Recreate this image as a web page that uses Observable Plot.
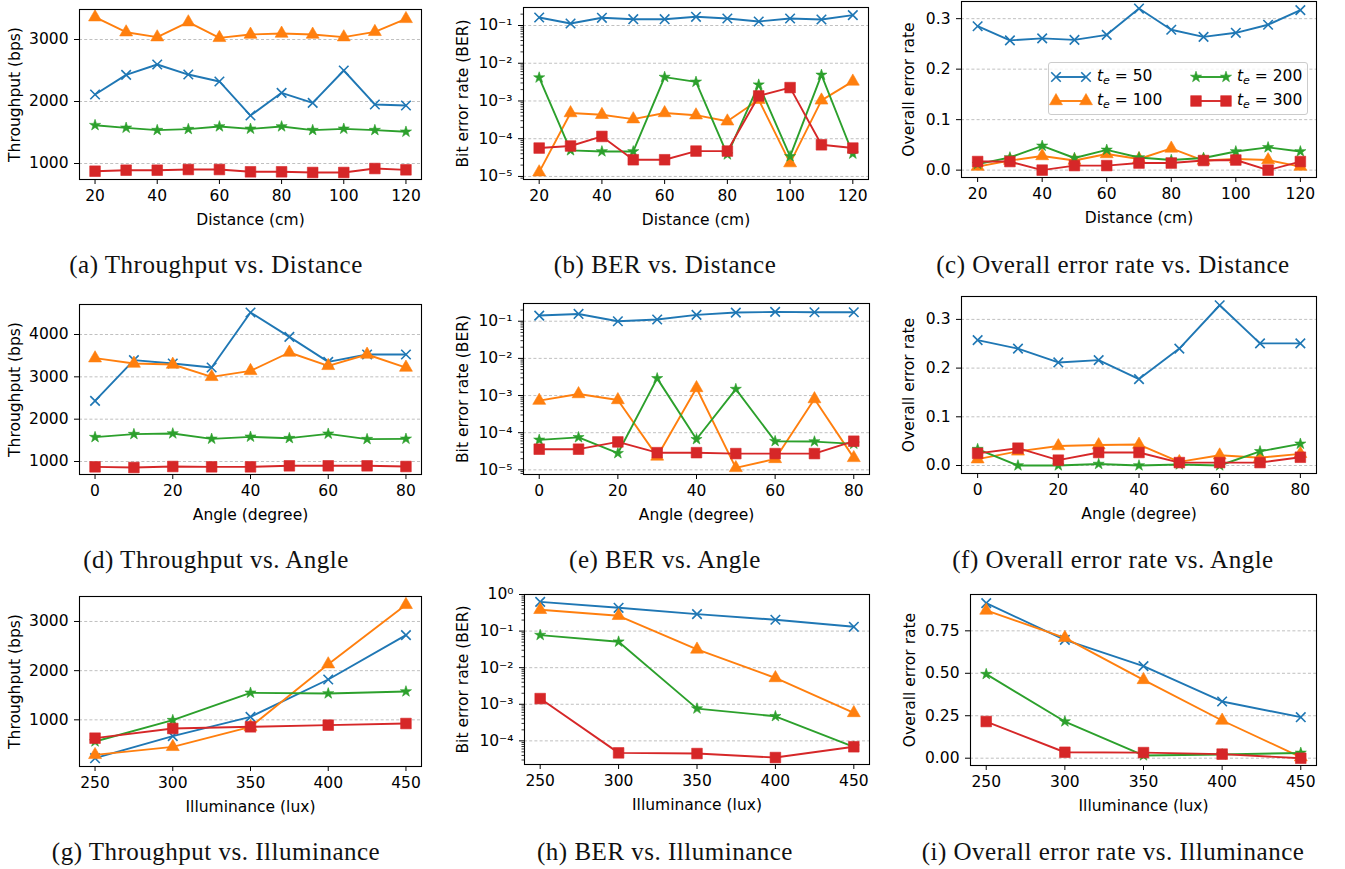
<!DOCTYPE html>
<html><head><meta charset="utf-8">
<script src="https://cdn.jsdelivr.net/npm/d3@7"></script>
<script src="https://cdn.jsdelivr.net/npm/@observablehq/plot@0.6"></script>
<style>
body{margin:0;background:#fff;}
#root{position:relative;width:1345px;height:869px;overflow:hidden;font-family:"DejaVu Sans";}
.panel{position:absolute;}
.cap{position:absolute;font-family:"Liberation Serif",serif;font-size:25px;letter-spacing:0.5px;white-space:nowrap;transform:translateX(-50%);line-height:1;color:#111;}
.legend{position:absolute;border:1px solid #cccccc;border-radius:3px;background:rgba(255,255,255,0.8);font-family:"DejaVu Sans";font-size:15.5px;color:#000;}
.legend .item{position:absolute;display:flex;align-items:center;white-space:nowrap;}
</style></head><body><div id="root"></div>
<script>
// ---------- data ----------
const distance = [20, 30, 40, 50, 60, 70, 80, 90, 100, 110, 120];
const angle = [0, 10, 20, 30, 40, 50, 60, 70, 80];
const illuminance = [250, 300, 350, 400, 450];
const seriesNames = ["50", "100", "200", "300"];

const thrDist50 = [2113, 2430, 2597, 2435, 2323, 1774, 2140, 1978, 2500, 1952, 1935];
const thrDist100 = [3360, 3118, 3038, 3280, 3027, 3081, 3097, 3081, 3038, 3124, 3333];
const thrDist200 = [1618, 1575, 1538, 1554, 1597, 1559, 1597, 1538, 1559, 1538, 1511];
const thrDist300 = [876, 892, 892, 903, 903, 866, 866, 855, 855, 919, 898];

const berDist50 = [0.163, 0.113, 0.16, 0.147, 0.147, 0.17, 0.153, 0.128, 0.153, 0.144, 0.188];
const berDist100 = [1.3e-5, 4.8e-4, 4.3e-4, 3.3e-4, 4.8e-4, 4.2e-4, 2.9e-4, 1.08e-3, 2.26e-5, 1.04e-3, 3.3e-3];
const berDist200 = [4.16e-3, 4.9e-5, 4.6e-5, 4.6e-5, 4.3e-3, 3.2e-3, 3.8e-5, 2.7e-3, 3.4e-5, 4.9e-3, 4.0e-5];
const berDist300 = [5.65e-5, 6.4e-5, 1.15e-4, 2.77e-5, 2.77e-5, 4.7e-5, 4.7e-5, 1.36e-3, 2.26e-3, 6.9e-5, 5.65e-5];

const errDist50 = [0.285, 0.257, 0.261, 0.258, 0.268, 0.320, 0.278, 0.264, 0.272, 0.288, 0.317];
const errDist100 = [0.007, 0.019, 0.028, 0.019, 0.032, 0.022, 0.043, 0.019, 0.022, 0.020, 0.007];
const errDist200 = [0.012, 0.025, 0.048, 0.024, 0.040, 0.025, 0.020, 0.024, 0.037, 0.045, 0.037];
const errDist300 = [0.017, 0.017, 0.0, 0.009, 0.009, 0.014, 0.014, 0.019, 0.020, 0.0, 0.017];

const thrAng50 = [2433, 3394, 3315, 3220, 4520, 3945, 3354, 3528, 3528];
const thrAng100 = [3441, 3315, 3291, 3000, 3142, 3575, 3260, 3528, 3220];
const thrAng200 = [1575, 1646, 1661, 1535, 1583, 1551, 1654, 1528, 1535];
const thrAng300 = [874, 858, 882, 874, 874, 898, 898, 898, 882];

const berAng50 = [0.142, 0.157, 0.1, 0.111, 0.148, 0.171, 0.178, 0.174, 0.174];
const berAng100 = [7.3e-4, 1.1e-3, 7.6e-4, 2.3e-5, 1.6e-3, 1.13e-5, 1.97e-5, 8.05e-4, 2.1e-5];
const berAng200 = [6.4e-5, 7.5e-5, 2.8e-5, 2.9e-3, 6.65e-5, 1.49e-3, 5.9e-5, 5.77e-5, 5.0e-5];
const berAng300 = [3.6e-5, 3.6e-5, 5.65e-5, 2.9e-5, 2.9e-5, 2.74e-5, 2.74e-5, 2.74e-5, 5.9e-5];

const errAng50 = [0.2575, 0.240, 0.2116, 0.2164, 0.1774, 0.240, 0.329, 0.2507, 0.2507];
const errAng100 = [0.013, 0.029, 0.040, 0.042, 0.043, 0.0075, 0.021, 0.016, 0.024];
const errAng200 = [0.0336, 0.0, 0.0, 0.003, 0.0, 0.002, 0.0, 0.029, 0.0445];
const errAng300 = [0.025, 0.0356, 0.011, 0.0267, 0.0267, 0.006, 0.006, 0.006, 0.017];

const thrIll50 = [220, 668, 1061, 1820, 2722];
const thrIll100 = [288, 451, 858, 2132, 3339];
const thrIll200 = [559, 993, 1549, 1536, 1576];
const thrIll300 = [627, 824, 858, 892, 925];

const berIll50 = [0.63, 0.433, 0.291, 0.204, 0.131];
const berIll100 = [0.382, 0.262, 0.0316, 0.00523, 5.8e-4];
const berIll200 = [0.0778, 0.0512, 7.6e-4, 4.7e-4, 6.9e-5];
const berIll300 = [1.43e-3, 4.7e-5, 4.5e-5, 3.5e-5, 6.9e-5];

const errIll50 = [0.913, 0.697, 0.542, 0.334, 0.2415];
const errIll100 = [0.870, 0.709, 0.461, 0.222, 0.006];
const errIll200 = [0.495, 0.216, 0.016, 0.022, 0.031];
const errIll300 = [0.216, 0.035, 0.033, 0.024, 0.0];

const distTicks = [20, 40, 60, 80, 100, 120];
const angTicks = [0, 20, 40, 60, 80];
const illTicks = [250, 300, 350, 400, 450];
const thrTicksA = [1000, 2000, 3000];
const thrTicksD = [1000, 2000, 3000, 4000];
const berTicks = [1e-5, 1e-4, 1e-3, 1e-2, 1e-1];
const berTicksH = [1e-4, 1e-3, 1e-2, 1e-1, 1];
const errTicks = [0, 0.1, 0.2, 0.3];
const errTicksI = [0, 0.25, 0.5, 0.75];

const xLabels = ["Distance (cm)", "Angle (degree)", "Illuminance (lux)"];
const yLabels = ["Throughput (bps)", "Bit error rate (BER)", "Overall error rate"];
const captions = [
  "(a) Throughput vs. Distance", "(b) BER vs. Distance", "(c) Overall error rate vs. Distance",
  "(d) Throughput vs. Angle", "(e) BER vs. Angle", "(f) Overall error rate vs. Angle",
  "(g) Throughput vs. Illuminance", "(h) BER vs. Illuminance", "(i) Overall error rate vs. Illuminance"
];

// ---------- styling ----------
const colors = ["#1f77b4", "#ff7f0e", "#2ca02c", "#d62728"];
const symbols = ["times", "triangle", "star", "square"];
const radii = [4.4, 4.8, 3.5, 6.0];
const FS = 15.5;

const supMap = {"-": "\u207B", "0": "\u2070", "1": "\u00B9", "2": "\u00B2", "3": "\u00B3", "4": "\u2074", "5": "\u2075", "6": "\u2076", "7": "\u2077", "8": "\u2078", "9": "\u2079"};
const logFmt = d => "10" + String(Math.round(Math.log10(d))).split("").map(c => supMap[c]).join("");

const root = document.getElementById("root");

function panel(o) {
  const ML = 80, MR = 12, MT = 12, MB = 52;
  const [L, T, R, B] = o.frame;
  const w = R - L, h = B - T;
  const marks = [];
  marks.push(Plot.gridY(o.yTicks, {stroke: "#b0b0b0", strokeOpacity: 1, strokeDasharray: "3,2.2", strokeWidth: 0.8}));
  o.ys.forEach((ys, i) => {
    const data = o.xs.map((xv, j) => ({x: xv, y: ys[j]}));
    marks.push(Plot.line(data, {x: "x", y: "y", stroke: colors[i], strokeWidth: 1.9}));
    marks.push(Plot.dot(data, {x: "x", y: "y", symbol: symbols[i], r: radii[i],
      fill: i === 0 ? "none" : colors[i], stroke: colors[i], strokeWidth: i === 0 ? 1.6 : 0.6}));
  });
  marks.push(Plot.frame({stroke: "#000", strokeWidth: 1.1}));
  if (o.yType === "log") {
    const minor = [];
    for (let k = -7; k <= 0; k++) for (let m = 2; m <= 9; m++) {
      const v = m * Math.pow(10, k);
      if (v > o.yDomain[0] && v < o.yDomain[1]) minor.push(v);
    }
    marks.push(Plot.axisY({ticks: minor, tickSize: 2.5, tickFormat: () => "", label: null, strokeWidth: 0.8}));
  }
  marks.push(Plot.axisY({ticks: o.yTicks, tickFormat: o.yFormat, tickSize: 5, tickPadding: 6, strokeWidth: 1, fontSize: FS,
    label: o.yLabel, labelAnchor: "center", labelArrow: "none", labelOffset: o.yLabelOffset}));
  marks.push(Plot.axisX({ticks: o.xTicks, tickSize: 5, tickPadding: 5.5, strokeWidth: 1, fontSize: FS,
    label: o.xLabel, labelAnchor: "center", labelArrow: "none", labelOffset: 45}));
  const svg = Plot.plot({
    width: w + ML + MR, height: h + MT + MB,
    marginLeft: ML, marginRight: MR, marginTop: MT, marginBottom: MB,
    x: {domain: o.xDomain},
    y: {type: o.yType || "linear", domain: o.yDomain},
    style: {fontFamily: "DejaVu Sans", fontSize: FS + "px", color: "#000", background: "transparent", overflow: "visible"},
    marks
  });
  const div = document.createElement("div");
  div.className = "panel";
  div.style.left = (L - ML) + "px";
  div.style.top = (T - MT) + "px";
  div.appendChild(svg);
  root.appendChild(div);
}

const fmt1 = d3.format(".1f"), fmt2 = d3.format(".2f"), fmt0 = d3.format("d");

// row 1
panel({frame: [79, 9, 421, 179], xs: distance, xDomain: [15, 125], xTicks: distTicks, xLabel: xLabels[0],
  ys: [thrDist50, thrDist100, thrDist200, thrDist300], yDomain: [742, 3484], yTicks: thrTicksA, yFormat: fmt0,
  yLabel: yLabels[0], yLabelOffset: 71});
panel({frame: [523, 7, 868, 179], xs: distance, xDomain: [15, 125], xTicks: distTicks, xLabel: xLabels[0],
  ys: [berDist50, berDist100, berDist200, berDist300], yType: "log", yDomain: [8.3e-6, 0.30], yTicks: berTicks, yFormat: logFmt,
  yLabel: yLabels[1], yLabelOffset: 67});
panel({frame: [961, 1, 1316, 177], xs: distance, xDomain: [15, 125], xTicks: distTicks, xLabel: xLabels[0],
  ys: [errDist50, errDist100, errDist200, errDist300], yDomain: [-0.0146, 0.334], yTicks: errTicks, yFormat: fmt1,
  yLabel: yLabels[2], yLabelOffset: 59});
// row 2
panel({frame: [79, 304, 421, 474], xs: angle, xDomain: [-4, 84], xTicks: angTicks, xLabel: xLabels[1],
  ys: [thrAng50, thrAng100, thrAng200, thrAng300], yDomain: [693, 4709], yTicks: thrTicksD, yFormat: fmt0,
  yLabel: yLabels[0], yLabelOffset: 71});
panel({frame: [523, 303, 869, 474], xs: angle, xDomain: [-4, 84], xTicks: angTicks, xLabel: xLabels[1],
  ys: [berAng50, berAng100, berAng200, berAng300], yType: "log", yDomain: [7.5e-6, 0.30], yTicks: berTicks, yFormat: logFmt,
  yLabel: yLabels[1], yLabelOffset: 67});
panel({frame: [961, 296, 1316, 473], xs: angle, xDomain: [-4, 84], xTicks: angTicks, xLabel: xLabels[1],
  ys: [errAng50, errAng100, errAng200, errAng300], yDomain: [-0.0164, 0.347], yTicks: errTicks, yFormat: fmt1,
  yLabel: yLabels[2], yLabelOffset: 59});
// row 3
panel({frame: [79, 596, 421, 766], xs: illuminance, xDomain: [240, 460], xTicks: illTicks, xLabel: xLabels[2],
  ys: [thrIll50, thrIll100, thrIll200, thrIll300], yDomain: [51, 3508], yTicks: thrTicksA, yFormat: fmt0,
  yLabel: yLabels[0], yLabelOffset: 71});
panel({frame: [524, 594, 869, 764], xs: illuminance, xDomain: [240, 460], xTicks: illTicks, xLabel: xLabels[2],
  ys: [berIll50, berIll100, berIll200, berIll300], yType: "log", yDomain: [2.26e-5, 1.0], yTicks: berTicksH, yFormat: logFmt,
  yLabel: yLabels[1], yLabelOffset: 68});
panel({frame: [970, 594, 1316, 765], xs: illuminance, xDomain: [240, 460], xTicks: illTicks, xLabel: xLabels[2],
  ys: [errIll50, errIll100, errIll200, errIll300], yDomain: [-0.043, 0.964], yTicks: errTicksI, yFormat: fmt2,
  yLabel: yLabels[2], yLabelOffset: 67});

// captions
const capX = [216, 665, 1113];
const capY = [252, 547, 839];
captions.forEach((c, i) => {
  const d = document.createElement("div");
  d.className = "cap";
  d.textContent = c;
  d.style.left = capX[i % 3] + "px";
  d.style.top = capY[Math.floor(i / 3)] + "px";
  root.appendChild(d);
});

// legend in panel (c)
const leg = document.createElement("div");
leg.className = "legend";
leg.style.left = "1048px"; leg.style.top = "62px"; leg.style.width = "258px"; leg.style.height = "51px";
const pos = [[6, 14], [6, 38], [146, 14], [146, 38]];
seriesNames.forEach((name, i) => {
  const item = document.createElement("div");
  item.className = "item";
  item.style.left = pos[i][0] + "px";
  item.style.top = (pos[i][1] - 12) + "px";
  item.style.height = "24px";
  const s = d3.create("svg").attr("width", 32).attr("height", 24).style("overflow", "visible");
  s.append("line").attr("x1", 1).attr("x2", 31).attr("y1", 12).attr("y2", 12).attr("stroke", colors[i]).attr("stroke-width", 1.9);
  const sym = [d3.symbolTimes, d3.symbolTriangle, d3.symbolStar, d3.symbolSquare][i];
  [1, 31].forEach(px => {
    s.append("path").attr("transform", `translate(${px},12)`)
      .attr("d", d3.symbol(sym, radii[i] * radii[i] * Math.PI)())
      .attr("fill", i === 0 ? "none" : colors[i]).attr("stroke", colors[i]).attr("stroke-width", i === 0 ? 1.6 : 0.6);
  });
  item.appendChild(s.node());
  const t = document.createElement("span");
  t.style.marginLeft = "10px";
  t.innerHTML = `<i>t</i><sub style="font-size:11px;font-style:italic;vertical-align:-3px">e</sub> = ${name}`;
  item.appendChild(t);
  leg.appendChild(item);
});
root.appendChild(leg);
</script>
</body></html>
